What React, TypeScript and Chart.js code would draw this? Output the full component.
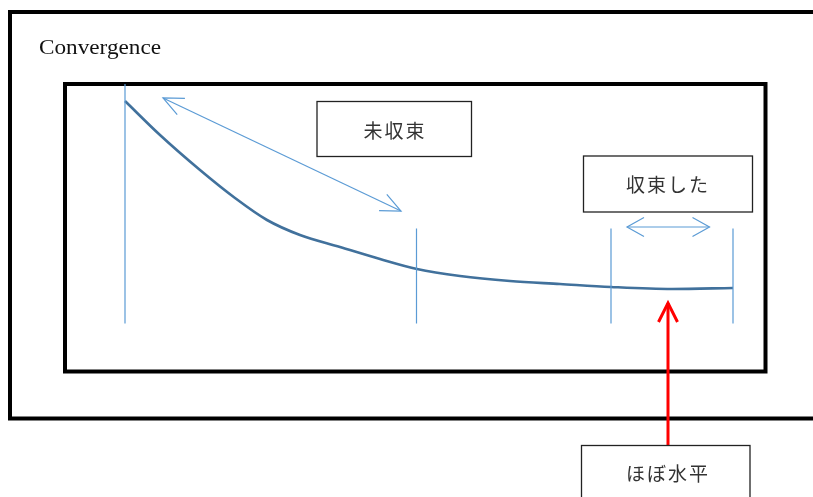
import React, { useEffect, useRef } from "react";
import { Chart, registerables } from "chart.js";

Chart.register(...registerables);

// Curve (diagram units: x across, y down)
const curveX = [125, 160, 200, 235, 267, 300, 340, 380, 417, 460, 510, 560, 611, 672, 733];
const curveY = [101, 135, 170, 198, 220, 235, 247, 259, 269, 276, 281, 284, 287, 289, 288];

// Vertical marker lines
const markerX = [125, 416.5, 611, 733];
const markerTop = [84, 228.5, 228.5, 228.5];
const markerBottom = [323.5, 323.5, 323.5, 323.5];

// Texts
const titleText = "Convergence";
const labelTexts = ["未収束", "収束した", "ほぼ水平"];

// Layout (positions of annotation elements)
const labelBoxes = [
  { x0: 317, y0: 101.5, x1: 471.5, y1: 156.5 },
  { x0: 583.5, y0: 156, x1: 752.5, y1: 212 },
  { x0: 581.5, y0: 445.5, x1: 750, y1: 520 },
];
const labelCenters = [
  { x: 394, y: 131 },
  { x: 667, y: 185 },
  { x: 667, y: 474 },
];

const W = 813;
const H = 497;

function drawOpenHead(ctx: CanvasRenderingContext2D, tx: number, ty: number, fx: number, fy: number, len: number, half: number) {
  const ang = Math.atan2(ty - fy, tx - fx);
  const bx = tx - len * Math.cos(ang);
  const by = ty - len * Math.sin(ang);
  const px = -Math.sin(ang) * half;
  const py = Math.cos(ang) * half;
  ctx.beginPath();
  ctx.moveTo(bx + px, by + py);
  ctx.lineTo(tx, ty);
  ctx.lineTo(bx - px, by - py);
  ctx.stroke();
}

const diagramPlugin = {
  id: "diagram",
  beforeDatasetsDraw(chart: any) {
    const ctx: CanvasRenderingContext2D = chart.ctx;
    const xs = chart.scales.x;
    const ys = chart.scales.y;
    const X = (v: number) => xs.getPixelForValue(v);
    const Y = (v: number) => ys.getPixelForValue(v);
    ctx.save();
    ctx.fillStyle = "#ffffff";
    ctx.fillRect(0, 0, chart.width, chart.height);
    ctx.strokeStyle = "#000000";
    ctx.lineWidth = 4;
    // outer frame
    ctx.strokeRect(X(10), Y(12), X(830) - X(10), Y(418.5) - Y(12));
    // inner frame
    ctx.strokeRect(X(65), Y(84), X(765.5) - X(65), Y(371.5) - Y(84));
    // title, fitted to the reference width
    ctx.fillStyle = "#111";
    ctx.font = "20px 'Liberation Serif', 'DejaVu Serif', serif";
    ctx.textAlign = "left";
    ctx.textBaseline = "alphabetic";
    const tw = ctx.measureText(titleText).width;
    const target = 122;
    ctx.translate(X(39), Y(53.5));
    ctx.scale(target / tw, 1);
    ctx.fillText(titleText, 0, 0);
    ctx.restore();
  },
  afterDatasetsDraw(chart: any) {
    const ctx: CanvasRenderingContext2D = chart.ctx;
    const xs = chart.scales.x;
    const ys = chart.scales.y;
    const X = (v: number) => xs.getPixelForValue(v);
    const Y = (v: number) => ys.getPixelForValue(v);
    ctx.save();
    // blue double arrows
    ctx.strokeStyle = "#5b9bd5";
    ctx.lineWidth = 1.2;
    const arrows = [
      [163, 98, 401, 211],
      [627, 227, 709.5, 227],
    ];
    arrows.forEach(([ax, ay, bx, by], i) => {
      ctx.beginPath();
      ctx.moveTo(X(ax), Y(ay));
      ctx.lineTo(X(bx), Y(by));
      ctx.stroke();
      const len = i === 0 ? 20 : 17;
      const half = i === 0 ? 9 : 9.5;
      drawOpenHead(ctx, X(ax), Y(ay), X(bx), Y(by), len, half);
      drawOpenHead(ctx, X(bx), Y(by), X(ax), Y(ay), len, half);
    });
    // red arrow
    ctx.strokeStyle = "#ff0000";
    ctx.lineWidth = 3;
    ctx.beginPath();
    ctx.moveTo(X(668), Y(445));
    ctx.lineTo(X(668), Y(303));
    ctx.stroke();
    drawOpenHead(ctx, X(668), Y(303), X(668), Y(445), 19, 9.5);
    // label boxes
    labelBoxes.forEach((b, i) => {
      ctx.fillStyle = "#ffffff";
      ctx.fillRect(X(b.x0), Y(b.y0), X(b.x1) - X(b.x0), Y(b.y1) - Y(b.y0));
      ctx.strokeStyle = "#222";
      ctx.lineWidth = 1.3;
      ctx.strokeRect(X(b.x0), Y(b.y0), X(b.x1) - X(b.x0), Y(b.y1) - Y(b.y0));
      ctx.fillStyle = "#333";
      ctx.font = "19px 'Noto Sans CJK JP', sans-serif";
      ctx.textBaseline = "middle";
      const c = labelCenters[i];
      const txt = labelTexts[i];
      const chars = Array.from(txt);
      const spacing = 2;
      const widths = chars.map((ch) => ctx.measureText(ch).width);
      const total = widths.reduce((a, w) => a + w, 0) + spacing * (chars.length - 1);
      let cx = X(c.x) - total / 2;
      ctx.textAlign = "left";
      chars.forEach((ch, k) => {
        ctx.fillText(ch, cx, Y(c.y));
        cx += widths[k] + spacing;
      });
    });
    ctx.restore();
  },
};

export default function App() {
  const ref = useRef<HTMLCanvasElement>(null);
  useEffect(() => {
    if (!ref.current) return;
    const markerSets = markerX.map((mx, i) => ({
      type: "line" as const,
      data: [
        { x: mx, y: markerTop[i] },
        { x: mx, y: markerBottom[i] },
      ],
      borderColor: "#5b9bd5",
      borderWidth: 1.2,
      pointRadius: 0,
      showLine: true,
      tension: 0,
    }));
    const chart = new Chart(ref.current, {
      type: "scatter",
      data: {
        datasets: [
          ...markerSets,
          {
            type: "line" as const,
            data: curveX.map((x, i) => ({ x, y: curveY[i] })),
            borderColor: "#41719c",
            borderWidth: 2.6,
            pointRadius: 0,
            showLine: true,
            cubicInterpolationMode: "monotone",
          } as any,
        ],
      },
      options: {
        animation: false,
        responsive: false,
        layout: { padding: 0 },
        plugins: { legend: { display: false }, tooltip: { enabled: false }, title: { display: false } },
        scales: {
          x: { type: "linear", min: 0, max: W, display: false },
          y: { type: "linear", min: 0, max: H, reverse: true, display: false },
        },
      },
      plugins: [diagramPlugin],
    });
    return () => chart.destroy();
  }, []);
  return (
    <div style={{ position: "fixed", left: 0, top: 0, width: W, height: H, background: "#fff" }}>
      <canvas ref={ref} width={W} height={H} style={{ display: "block", width: W, height: H }} />
    </div>
  );
}
